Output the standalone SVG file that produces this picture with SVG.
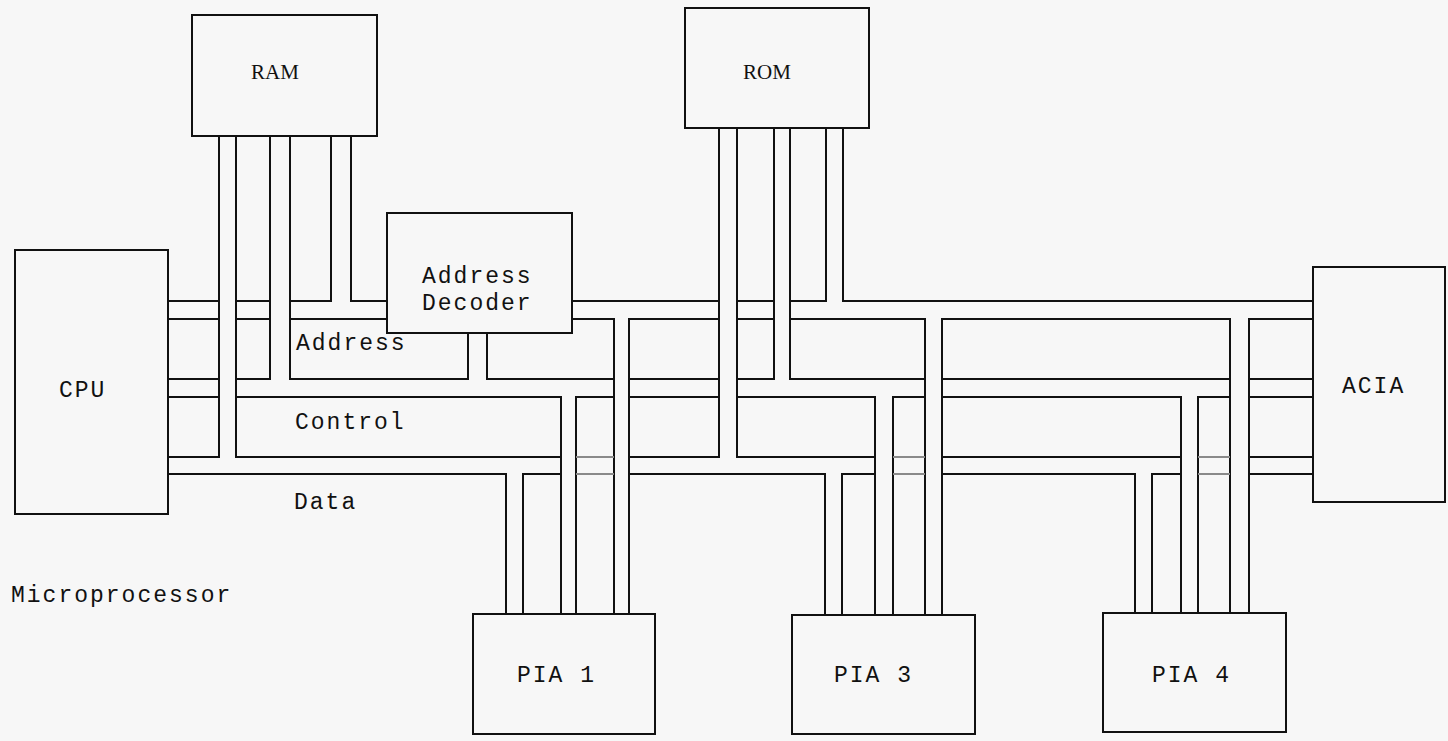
<svg xmlns="http://www.w3.org/2000/svg" width="1448" height="741" viewBox="0 0 1448 741">
<style>
.box{fill:none;stroke:#111;stroke-width:2}
.w{fill:none;stroke:#111;stroke-width:2;stroke-linejoin:miter}
.g{fill:none;stroke:#8a8a8a;stroke-width:2}
.t{font-family:"Liberation Mono","DejaVu Sans Mono",monospace;font-size:23px;letter-spacing:2px;fill:#111}
.s{font-family:"Liberation Serif","DejaVu Serif",serif;font-size:21px;fill:#111}
</style>
<rect x="0" y="0" width="1448" height="741" fill="#f7f7f7"/>
<g id="connectors">
<!-- Address bus upper -->
<path class="w" d="M168,301 H219 M236,301 H270 M331,136 V301 H290 M351,136 V301 H387 M572,301 H719 M737,301 H774 M826,128 V301 H790 M843,128 V301 H1313"/>
<!-- Address bus lower -->
<path class="w" d="M168,319 H219 M236,319 H270 M290,319 H387 M572,319 H614 V614 M629,614 V319 H719 M737,319 H774 M790,319 H925 V615 M942,615 V319 H1230 V613 M1249,613 V319 H1313"/>
<!-- Control bus upper -->
<path class="w" d="M168,379 H219 M270,136 V379 H236 M290,136 V379 H468 V333 M487,333 V379 H614 M629,379 H719 M774,128 V379 H737 M790,128 V379 H925 M942,379 H1230 M1249,379 H1313"/>
<!-- Control bus lower -->
<path class="w" d="M168,397 H219 M236,397 H561 V614 M576,614 V397 H614 M629,397 H719 M737,397 H875 V615 M893,615 V397 H925 M942,397 H1181 V613 M1198,613 V397 H1230 M1249,397 H1313"/>
<!-- Data bus upper -->
<path class="w" d="M168,457 H219 V136 M236,136 V457 H561 M629,457 H719 V128 M737,128 V457 H875 M942,457 H1181 M1249,457 H1313"/>
<!-- Data bus lower -->
<path class="w" d="M168,474 H506 V614 M523,614 V474 H561 M629,474 H825 V615 M842,615 V474 H875 M942,474 H1135 V613 M1152,613 V474 H1181 M1249,474 H1313"/>
<!-- faint segments between vertical pairs -->
<path class="g" d="M576,457 H614 M576,474 H614 M893,457 H925 M893,474 H925 M1198,457 H1230 M1198,474 H1230"/>
</g>
<g id="ram"><rect class="box" x="192" y="15" width="185" height="121"/><text class="s" x="251" y="79">RAM</text></g>
<g id="rom"><rect class="box" x="685" y="8" width="184" height="120"/><text class="s" x="743" y="79">ROM</text></g>
<g id="decoder"><rect class="box" x="387" y="213" width="185" height="120"/><text class="t" x="422" y="283">Address</text><text class="t" x="422" y="310">Decoder</text></g>
<g id="cpu"><rect class="box" x="15" y="250" width="153" height="264"/><text class="t" x="59" y="397">CPU</text></g>
<g id="acia"><rect class="box" x="1313" y="267" width="132" height="235"/><text class="t" x="1342" y="393">ACIA</text></g>
<g id="pia1"><rect class="box" x="473" y="614" width="182" height="120"/><text class="t" x="517" y="682">PIA 1</text></g>
<g id="pia3"><rect class="box" x="792" y="615" width="183" height="119"/><text class="t" x="834" y="682">PIA 3</text></g>
<g id="pia4"><rect class="box" x="1103" y="613" width="183" height="119"/><text class="t" x="1152" y="682">PIA 4</text></g>
<g id="labels">
<text class="t" x="296" y="350">Address</text>
<text class="t" x="295" y="429">Control</text>
<text class="t" x="294" y="509">Data</text>
<text class="t" x="11" y="602">Microprocessor</text>
</g>
</svg>
